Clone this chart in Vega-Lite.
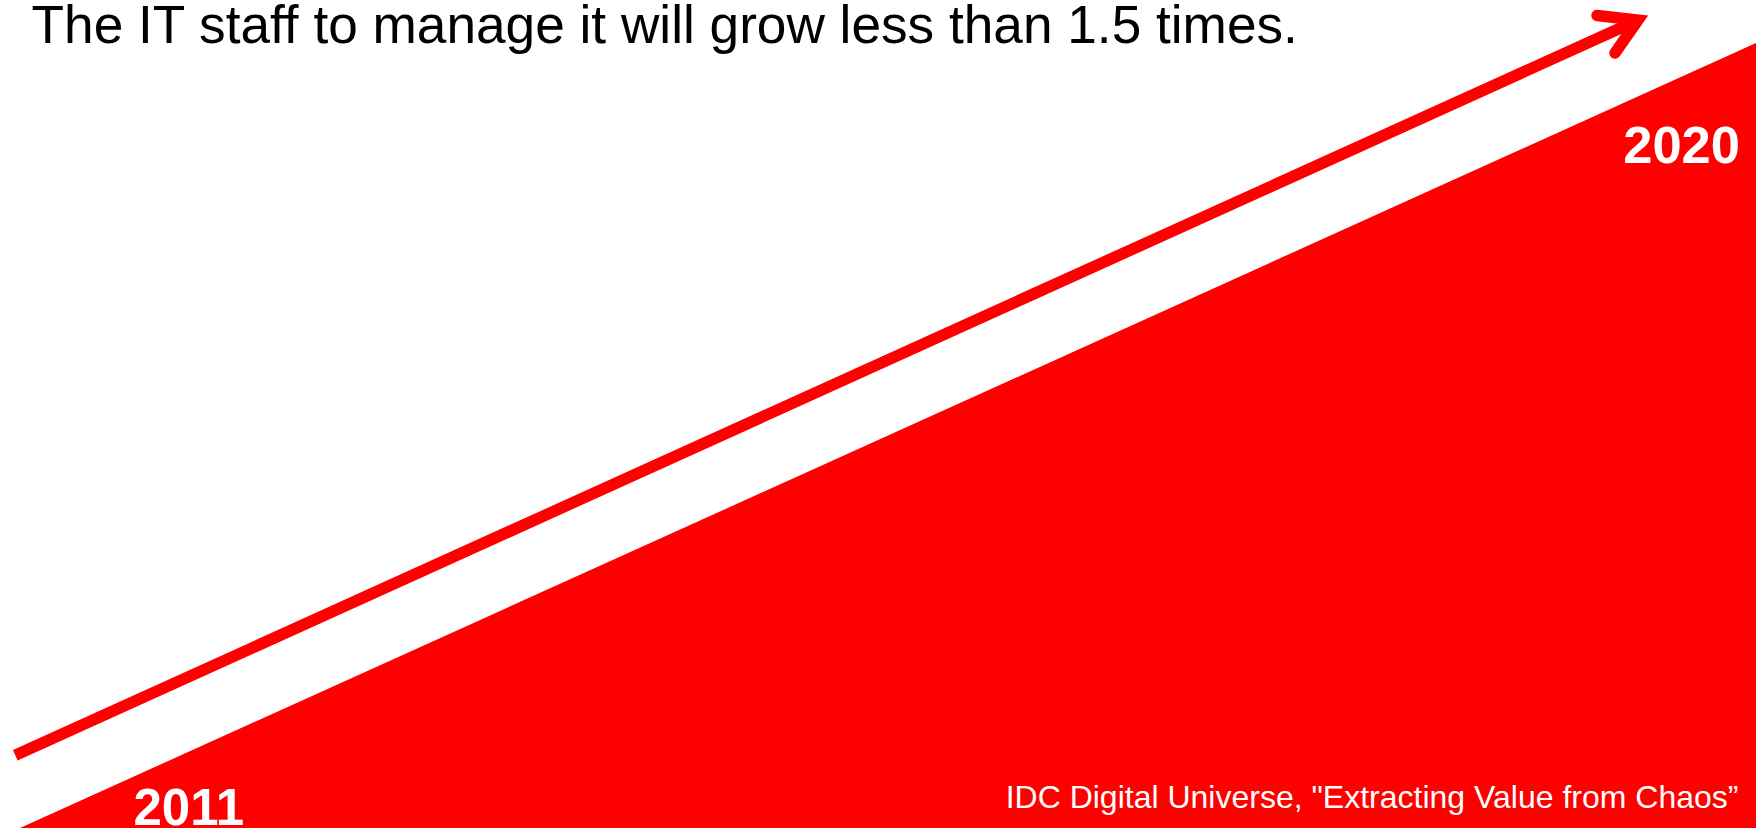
{
  "$schema": "https://vega.github.io/schema/vega-lite/v6.json",
  "width": 1756,
  "height": 828,
  "autosize": {"type": "none"},
  "padding": 0,
  "background": "white",
  "config": {"view": {"stroke": null}, "axis": {"disable": true}},
  "datasets": {
    "growth": [
      {"year": 2011, "staff": 0},
      {"year": 2020, "staff": 94.8}
    ],
    "shaft": [
      {"year": 2010.9756, "staff": 8.78, "step": 1},
      {"year": 2019.3468, "staff": 97.13, "step": 2}
    ],
    "head": [
      {"year": 2019.1756, "staff": 98.13, "step": 1},
      {"year": 2019.388, "staff": 97.58, "step": 2},
      {"year": 2019.269, "staff": 93.60, "step": 3}
    ],
    "headline": [{"year": 2011.0601, "staff": 94.84, "text": "The IT staff to manage it will grow less than 1.5 times."}],
    "start": [{"year": 2011.5884, "staff": 0.36, "text": "2011"}],
    "end": [{"year": 2019.917, "staff": 80.28, "text": "2020"}],
    "source": [{"year": 2019.909, "staff": 2.38, "text": "IDC Digital Universe, \"Extracting Value from Chaos\u201d"}]
  },
  "encoding": {
    "x": {"field": "year", "type": "quantitative", "scale": {"domain": [2010.8963, 2020], "nice": false, "zero": false}},
    "y": {"field": "staff", "type": "quantitative", "scale": {"domain": [0, 100], "nice": false, "zero": false}}
  },
  "layer": [
    {
      "data": {"name": "growth"},
      "mark": {"type": "area", "color": "#ff0000", "clip": false}
    },
    {
      "data": {"name": "shaft"},
      "mark": {"type": "line", "color": "#ff0000", "strokeWidth": 11.5, "strokeCap": "butt"},
      "encoding": {"order": {"field": "step"}}
    },
    {
      "data": {"name": "head"},
      "mark": {"type": "line", "color": "#ff0000", "strokeWidth": 11.5, "strokeCap": "round", "strokeJoin": "miter", "strokeMiterLimit": 10},
      "encoding": {"order": {"field": "step"}}
    },
    {
      "data": {"name": "headline"},
      "mark": {"type": "text", "font": "Liberation Sans", "fontSize": 53.2, "color": "#000000", "align": "left", "baseline": "alphabetic"},
      "encoding": {"text": {"field": "text"}}
    },
    {
      "data": {"name": "start"},
      "mark": {"type": "text", "font": "Liberation Sans", "fontSize": 51, "fontWeight": "bold", "color": "#ffffff", "align": "left", "baseline": "alphabetic"},
      "encoding": {"text": {"field": "text"}}
    },
    {
      "data": {"name": "end"},
      "mark": {"type": "text", "font": "Liberation Sans", "fontSize": 52.5, "fontWeight": "bold", "color": "#ffffff", "align": "right", "baseline": "alphabetic"},
      "encoding": {"text": {"field": "text"}}
    },
    {
      "data": {"name": "source"},
      "mark": {"type": "text", "font": "Liberation Sans", "fontSize": 32, "color": "#ffffff", "align": "right", "baseline": "alphabetic"},
      "encoding": {"text": {"field": "text"}}
    }
  ]
}
